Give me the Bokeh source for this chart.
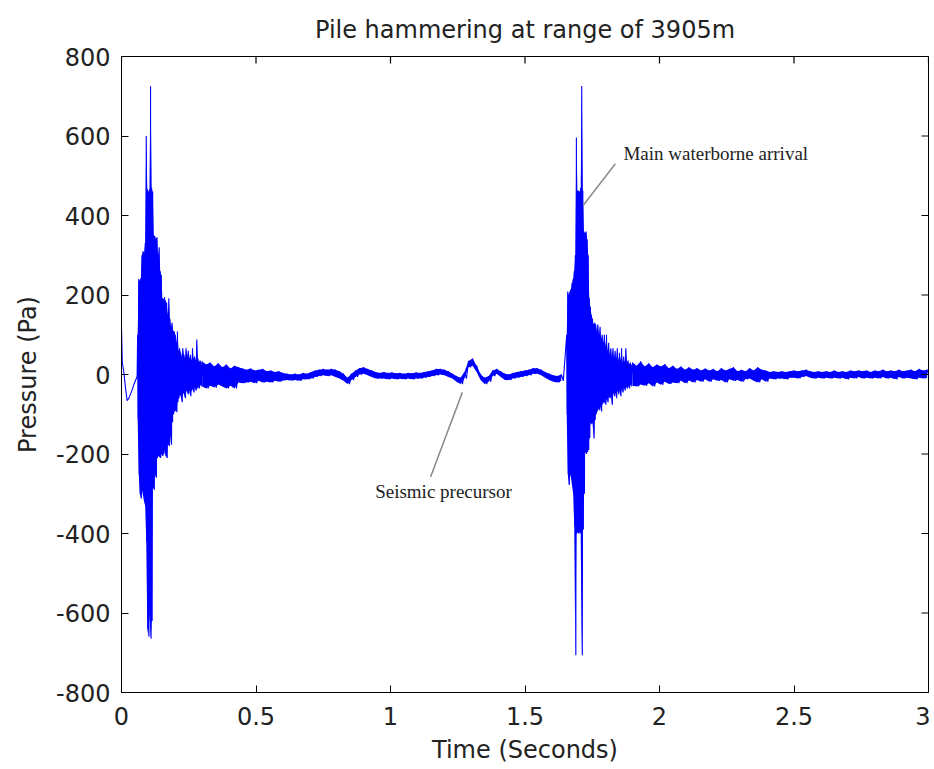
import numpy as np
from bokeh.plotting import figure
from bokeh.models import Range1d, FixedTicker, Label
from bokeh.embed import file_html
from bokeh.resources import INLINE

TITLE = "Pile hammering at range of 3905m"
X_LABEL = "Time (Seconds)"
Y_LABEL = "Pressure (Pa)"
X_MIN, X_MAX = 0, 3
Y_MIN, Y_MAX = -800, 800
x_ticks = [0, 0.5, 1, 1.5, 2, 2.5, 3]
x_tick_labels = ["0", "0.5", "1", "1.5", "2", "2.5", "3"]
y_ticks = [-800, -600, -400, -200, 0, 200, 400, 600, 800]
y_tick_labels = ["-800", "-600", "-400", "-200", "0", "200", "400", "600", "800"]

# --- waveform (Pa) ---
lead_t = [0.000, 0.003, 0.009, 0.015, 0.021, 0.027, 0.033, 0.040, 0.046, 0.052, 0.058]
lead_p = [118, 30, 5, -35, -66, -60, -50, -38, -25, -15, -5]

# first arrival burst: upper / lower extremes every 4 ms from 0.060 s
burst1_start, burst1_step = 0.060, 0.004
burst1_hi = [100, 240, 235, 242, 300, 310, 305, 330, 600, 466,
             460, 466, 725, 470, 460, 350, 348, 340, 345, 300,
             320, 260, 250, 192, 190, 195, 185, 180, 150, 192,
             140, 120, 130, 110, 108, 100, 80, 108, 60, 66,
             55, 45, 66, 50, 40, 66, 45, 60, 40, 50,
             35, 66, 40, 45, 35, 88, 40, 30, 35, 30]
burst1_lo = [-110, -250, -300, -312, -290, -305, -320, -330, -420, -640,
             -660, -600, -665, -620, -282, -290, -250, -260, -210, -205,
             -207, -210, -200, -205, -200, -190, -205, -210, -175, -180,
             -150, -177, -120, -100, -93, -90, -95, -70, -60, -50,
             -55, -70, -45, -50, -60, -40, -45, -50, -40, -55,
             -40, -35, -45, -30, -40, -35, -30, -35, -25, -30]

# quiet middle part incl. seismic precursor: extremes every 15 ms from 0.300 s
mid_start, mid_step = 0.300, 0.015
mid_hi = [33, 25, 30, 20, 28, 18, 25, 15, 22, 18,
          15, 12, 15, 10, 12, 14, 8, 10, 6, 8,
          4, 2, 0, 2, 0, 4, 2, 6, 10, 12,
          14, 12, 14, 12, 8, 2, -8, 2, 10, 16,
          18, 14, 10, 6, 4, 6, 4, 5, 3, 4,
          2, 4, 3, 5, 4, 6, 8, 10, 14, 14,
          12, 8, 2, -4, -8, 6, 34, 40, 22, 0,
          -8, -4, 10, 14, 8, 2, 0, 4, 6, 8,
          10, 12, 16, 16, 12, 6, 2, -2, -4, 0]
mid_lo = [-30, -35, -28, -33, -25, -30, -35, -28, -35, -20,
          -22, -20, -18, -22, -16, -20, -18, -20, -16, -18,
          -15, -14, -15, -14, -16, -12, -12, -10, -6, -4,
          -2, -4, -2, -6, -10, -16, -24, -14, -6, 0,
          2, -2, -6, -10, -10, -10, -12, -10, -12, -11,
          -12, -10, -12, -10, -10, -8, -6, -4, -2, 0,
          -2, -6, -10, -18, -24, -10, 18, 22, 6, -14,
          -24, -18, -4, 2, -6, -14, -14, -10, -8, -6,
          -4, -2, 2, 2, -2, -8, -14, -18, -20, -16]

# main waterborne arrival burst: extremes every 4 ms from 1.655 s
burst2_start, burst2_step = 1.655, 0.004
burst2_hi = [100, 209, 200, 209, 215, 230, 240, 260, 300, 596,
             462, 462, 460, 470, 726, 462, 360, 355, 360, 340,
             300, 192, 170, 150, 140, 126, 130, 126, 110, 126,
             100, 120, 90, 100, 80, 100, 70, 100, 60, 80,
             50, 66, 45, 66, 40, 60, 40, 66, 35, 55,
             35, 66, 30, 45, 30, 66, 30, 35, 25, 30, 25]
burst2_lo = [-100, -250, -278, -250, -260, -280, -300, -380, -706, -400,
             -396, -400, -396, -400, -706, -390, -300, -195, -200, -195,
             -190, -160, -120, -125, -120, -161, -115, -100, -93, -85,
             -90, -80, -93, -75, -70, -70, -76, -60, -70, -55,
             -60, -50, -76, -45, -55, -45, -60, -40, -50, -40,
             -55, -35, -45, -30, -40, -30, -35, -28, -35, -25, -30]

# decaying tail: extremes every 15 ms from 1.900 s
tail_start, tail_step = 1.900, 0.015
tail_hi = [30, 22, 33, 20, 28, 18, 25, 20, 26, 16,
           22, 14, 20, 12, 18, 12, 16, 10, 15, 10,
           14, 8, 16, 10, 14, 18, 8, 12, 8, 16,
           10, 18, 12, 10, 6, 8, 6, 8, 6, 8,
           10, 8, 10, 12, 8, 6, 8, 6, 8, 6,
           10, 6, 8, 6, 10, 8, 10, 8, 10, 6,
           10, 8, 12, 8, 10, 8, 12, 8, 10, 12,
           8, 14, 10, 12]
tail_lo = [-28, -30, -25, -28, -22, -30, -20, -26, -18, -24,
           -20, -22, -16, -22, -15, -20, -14, -18, -12, -18,
           -12, -16, -14, -20, -12, -16, -14, -18, -12, -10,
           -16, -20, -12, -18, -10, -12, -10, -10, -12, -8,
           -8, -10, -6, -4, -8, -10, -8, -10, -8, -10,
           -8, -10, -8, -12, -8, -10, -6, -10, -8, -10,
           -8, -10, -6, -10, -8, -12, -6, -10, -8, -10,
           -12, -8, -10, -8]

envelopes = [
    (burst1_start, burst1_step, burst1_hi, burst1_lo),
    (mid_start, mid_step, mid_hi, mid_lo),
    (burst2_start, burst2_step, burst2_hi, burst2_lo),
    (tail_start, tail_step, tail_hi, tail_lo),
]


def zigzag(start, step, hi, lo):
    ts, vs = [], []
    for k, (a, b) in enumerate(zip(hi, lo)):
        ts += [start + k * step, start + k * step + step / 2]
        vs += [a, b]
    return ts, vs


segments = [(lead_t, lead_p)] + [zigzag(*e) for e in envelopes]
time_s = np.concatenate([np.asarray(s[0], float) for s in segments])
pressure = np.concatenate([np.asarray(s[1], float) for s in segments])

TEXT = "#222222"
FONT = "DejaVu Sans"
BLUE = "#0000FF"

p = figure(width=930, height=766, output_backend="svg", toolbar_location=None,
           x_range=Range1d(X_MIN, X_MAX), y_range=Range1d(Y_MIN, Y_MAX),
           min_border_left=121, min_border_right=2, min_border_top=56,
           min_border_bottom=74, title=TITLE)
p.title.text_font = FONT
p.title.text_font_size = "24px"
p.title.text_font_style = "normal"
p.title.text_color = TEXT
p.title.align = "center"
p.title.standoff = 25
p.grid.visible = False
p.outline_line_color = "black"
p.outline_line_width = 1
p.background_fill_color = "white"
p.border_fill_color = "white"

# solid body of the oscillation between read upper/lower extremes
for start, step, hi, lo in envelopes:
    tt = [start + k * step for k in range(len(hi))]
    p.varea(x=tt, y1=lo, y2=hi, fill_color=BLUE, fill_alpha=1.0)
p.line(time_s, pressure, line_color=BLUE, line_width=1.1)

# annotations
p.segment(x0=[1.716], y0=[425], x1=[1.836], y1=[530], line_color="#8a8a8a", line_width=1.5)
p.segment(x0=[1.267], y0=[-45], x1=[1.149], y1=[-258], line_color="#8a8a8a", line_width=1.5)
p.add_layout(Label(x=1.866, y=556, text="Main waterborne arrival", text_font="Liberation Serif",
                   text_font_size="19px", text_color=TEXT, text_baseline="middle", text_align="left"))
p.add_layout(Label(x=1.197, y=-294, text="Seismic precursor", text_font="Liberation Serif",
                   text_font_size="19px", text_color=TEXT, text_baseline="middle", text_align="center"))

# inner ticks on the top and right edges of the box
p.scatter(x=x_ticks, y=[Y_MAX] * len(x_ticks), marker="dash", angle=np.pi / 2,
          size=14, line_color="black", line_width=1.2)
p.scatter(x=[X_MAX] * len(y_ticks), y=y_ticks, marker="dash", angle=0,
          size=14, line_color="black", line_width=1.2)


def style_axis(ax, ticks, labels):
    ax.ticker = FixedTicker(ticks=ticks)
    ax.major_tick_in = 7
    ax.major_tick_out = 0
    ax.minor_tick_in = 0
    ax.minor_tick_out = 0
    ax.axis_line_color = "black"
    ax.major_tick_line_color = "black"
    ax.major_label_overrides = {float(t): l for t, l in zip(ticks, labels)}
    ax.major_label_text_font = FONT
    ax.major_label_text_font_size = "24px"
    ax.major_label_text_color = TEXT
    ax.axis_label_text_font = FONT
    ax.axis_label_text_font_size = "24px"
    ax.axis_label_text_font_style = "normal"
    ax.axis_label_text_color = TEXT


style_axis(p.xaxis[0], x_ticks, x_tick_labels)
p.xaxis[0].axis_label = X_LABEL
p.xaxis[0].major_label_standoff = 14
p.xaxis[0].axis_label_standoff = 8
style_axis(p.yaxis[0], y_ticks, y_tick_labels)
p.yaxis[0].axis_label = Y_LABEL
p.yaxis[0].major_label_standoff = 11
p.yaxis[0].axis_label_standoff = 11

open("out.html", "w").write(file_html(p, INLINE))
